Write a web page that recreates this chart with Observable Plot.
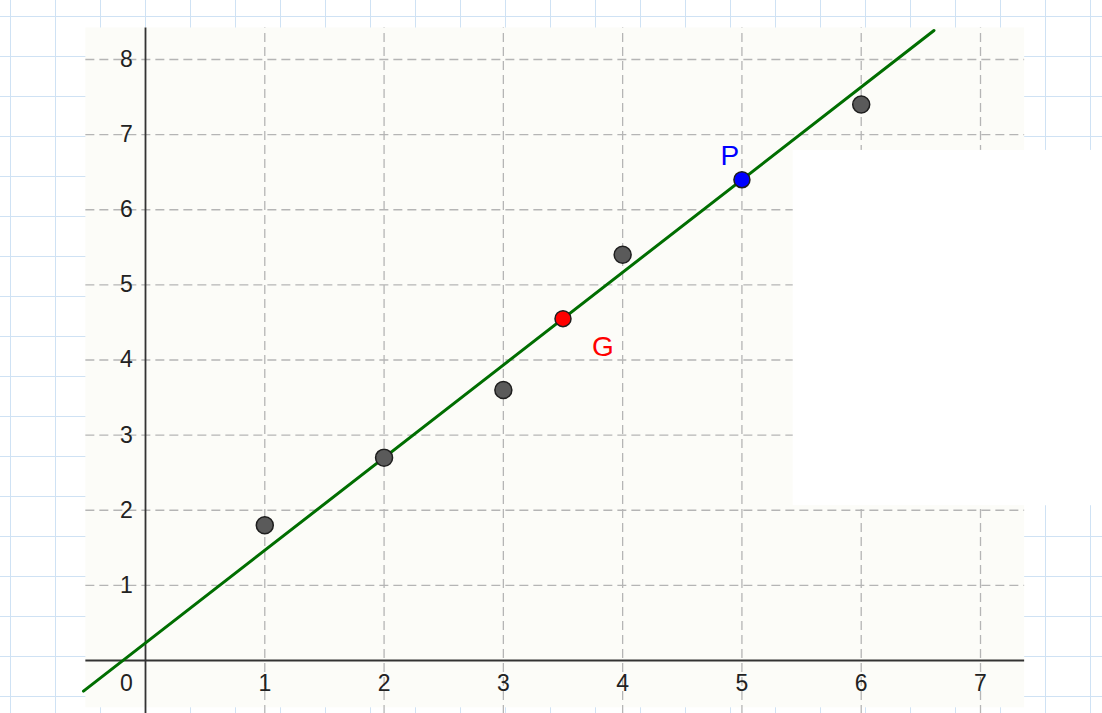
<!DOCTYPE html>
<html><head><meta charset="utf-8">
<script src="https://cdn.jsdelivr.net/npm/d3@7"></script>
<script src="https://cdn.jsdelivr.net/npm/@observablehq/plot@0.6"></script>
<style>
html,body{margin:0;padding:0;background:#fff;}
#paper{width:1102px;height:713px;position:relative;overflow:hidden;
background-color:#fff;
background-image:linear-gradient(to right,#cfe2f4 1px,transparent 1px),linear-gradient(to bottom,#cfe2f4 1px,transparent 1px);
background-size:45px 40px;background-position:10px 16px;}
#paper svg{display:block;}
</style></head><body><div id="paper"></div>
<script>
// data points (x, y)
const dataX = [1, 2, 3, 4, 6];
const dataY = [1.8, 2.7, 3.6, 5.4, 7.4];
// centroid G and point P (the data point at x = 5)
const pointG = {x: 3.5, y: 4.55, label: "G"};
const pointP = {x: 5, y: 6.4, label: "P"};
// tick labels
const xTicks = [1, 2, 3, 4, 5, 6, 7];
const yTicks = [1, 2, 3, 4, 5, 6, 7, 8];
// visible window of the graphics view and the blank cut-out on the right
const view = {xMin: -0.5, xMax: 7.37, yMin: -0.63, yMax: 8.42, yBottom: -0.72};
const cutout = {x1: 5.43, x2: 8.2, y1: 2.06, y2: 6.79};
// extent of the drawn line GP
const lineXExtent = [-0.52, 6.61];

const slope = (pointP.y - pointG.y) / (pointP.x - pointG.x);
const lineData = lineXExtent.map(x => ({x, y: pointG.y + slope * (x - pointG.x)}));
const points = dataX.map((x, i) => ({x, y: dataY[i]}));

const font = "'Liberation Sans', Arial, sans-serif";
const gridStyle = {stroke: "#b5b5b5", strokeWidth: 1.3, strokeDasharray: "9,5"};
const tickFont = {fontSize: 23, fill: "#222222"};

const chart = Plot.plot({
  width: 1102,
  height: 713,
  margin: 0,
  style: {background: "transparent", fontFamily: font, overflow: "visible"},
  x: {domain: [0, 7], range: [145, 980], axis: null},
  y: {domain: [0, 8], range: [660, 59], axis: null},
  marks: [
    Plot.rect([view], {x1: "xMin", x2: "xMax", y1: "yMin", y2: "yMax", fill: "#fcfcf8"}),
    Plot.ruleY(yTicks, {y: d => d, x1: view.xMin, x2: view.xMax, ...gridStyle}),
    Plot.ruleX(xTicks, {x: d => d, y1: view.yBottom, y2: view.yMax, ...gridStyle}),
    Plot.rect([cutout], {x1: "x1", x2: "x2", y1: "y1", y2: "y2", fill: "#ffffff"}),
    Plot.ruleY([0], {y: d => d, x1: view.xMin, x2: view.xMax, stroke: "#333333", strokeWidth: 1.8}),
    Plot.ruleX([0], {x: d => d, y1: view.yBottom, y2: view.yMax, stroke: "#333333", strokeWidth: 1.8}),
    Plot.text(xTicks, {x: d => d, y: 0, dy: 23, text: d => String(d), ...tickFont}),
    Plot.text(yTicks, {x: 0, y: d => d, dx: -19, text: d => String(d), ...tickFont}),
    Plot.text([0], {x: 0, y: 0, dx: -19, dy: 23, text: d => String(d), ...tickFont}),
    Plot.line(lineData, {x: "x", y: "y", stroke: "#006e00", strokeWidth: 3}),
    Plot.dot(points, {x: "x", y: "y", r: 8.5, fill: "#5a5a5a", stroke: "#1e1e1e", strokeWidth: 1.5}),
    Plot.dot([pointG], {x: "x", y: "y", r: 8, fill: "#ff0000", stroke: "#1e1e1e", strokeWidth: 1.5}),
    Plot.dot([pointP], {x: "x", y: "y", r: 8, fill: "#0000ff", stroke: "#1e1e1e", strokeWidth: 1.5}),
    Plot.text([pointG], {x: "x", y: "y", dx: 40, dy: 28, text: "label", fontSize: 28, fill: "#ff0000"}),
    Plot.text([pointP], {x: "x", y: "y", dx: -12, dy: -24, text: "label", fontSize: 28, fill: "#0000ff"})
  ]
});
document.getElementById("paper").appendChild(chart);
</script>
</body></html>
